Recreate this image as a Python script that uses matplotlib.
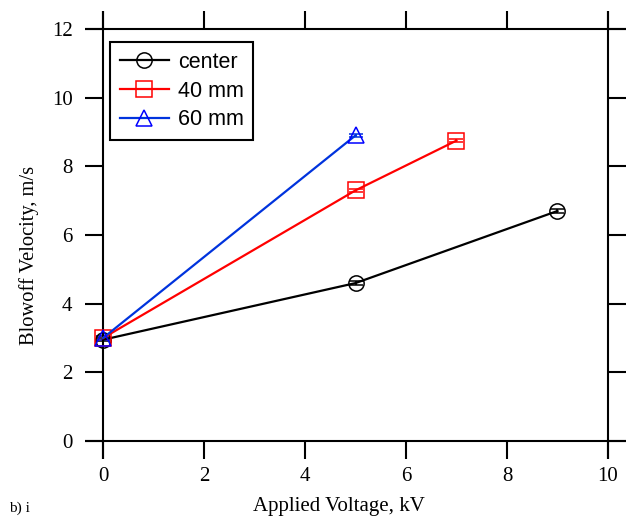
import matplotlib
matplotlib.use("Agg")
import matplotlib.pyplot as plt
from matplotlib.lines import Line2D

# Data
volt_center = [0, 5, 9]
vel_center = [2.95, 4.6, 6.7]
volt_40 = [0, 5, 7]
vel_40 = [3.0, 7.3, 8.75]
volt_60 = [0, 5]
vel_60 = [3.0, 8.9]
err = 0.05

x_ticks = [0, 2, 4, 6, 8, 10]
y_ticks = [0, 2, 4, 6, 8, 10, 12]


def main():
    fig = plt.figure(figsize=(6.32, 5.16), dpi=100)
    ax = fig.add_axes([0.163, 0.1453, 0.799, 0.7985])

    serif = ["Liberation Serif", "DejaVu Serif"]
    sans = ["Liberation Sans", "DejaVu Sans"]

    series = [
        (volt_center, vel_center, "black", "black", "o", "center", 11),
        (volt_40, vel_40, "#ff0000", "#ff0000", "s", "40 mm", 11),
        (volt_60, vel_60, "#0033dd", "#0000ff", "^", "60 mm", 12),
    ]
    handles = []
    for xs, ys, col, mcol, mk, lab, ms in series:
        ax.errorbar(
            xs, ys, yerr=err, color=col, linewidth=1.6,
            marker=mk, markersize=ms, markerfacecolor="none",
            markeredgecolor=mcol, markeredgewidth=1.1,
            ecolor=col, elinewidth=1.2, capsize=5, capthick=1.6,
            clip_on=False,
        )
        handles.append(Line2D([], [], color=col, linewidth=1.6, marker=mk,
                              markersize=ms, markerfacecolor="none",
                              markeredgecolor=mcol, markeredgewidth=1.1,
                              label=lab))

    ax.set_xlim(0, 10)
    ax.set_ylim(0, 12)
    ax.set_xticks(x_ticks)
    ax.set_yticks(y_ticks)
    ax.tick_params(direction="out", length=13, width=1.5,
                   top=True, right=True, labelsize=15, pad=6)
    ax.tick_params(axis="y", pad=9)
    for lbl in ax.get_xticklabels() + ax.get_yticklabels():
        lbl.set_family(serif)

    ax.set_xlabel("Applied Voltage, kV", fontsize=15, family=serif)
    ax.set_ylabel("Blowoff Velocity, m/s", fontsize=14.8, family=serif)
    ax.xaxis.set_label_coords(0.467, -0.136)
    ax.yaxis.set_label_coords(-0.127, 0.451)

    # axis lines that run past the corners by one tick length
    for sp in ax.spines.values():
        sp.set_visible(False)
    ext_px = 13 * 100 / 72
    bbox = ax.get_position()
    ex = ext_px / (bbox.width * 632)
    ey = ext_px / (bbox.height * 516)
    kw = dict(transform=ax.transAxes, clip_on=False, color="black",
              linewidth=1.5, solid_capstyle="butt")
    ax.plot([0, 0], [-ey, 1 + ey], **kw)
    ax.plot([1, 1], [-ey, 1 + ey], **kw)
    ax.plot([-ex, 1 + ex], [0, 0], **kw)
    ax.plot([-ex, 1 + ex], [1, 1], **kw)

    leg = ax.legend(handles=handles, loc="upper left",
                    bbox_to_anchor=(0.0139, 0.968), fancybox=False,
                    framealpha=1, edgecolor="black", handlelength=2.3,
                    borderpad=0.45, labelspacing=0.36, handletextpad=0.4,
                    borderaxespad=0, prop={"family": sans, "size": 15.5})
    leg.get_frame().set_linewidth(1.5)

    fig.text(0.015, 0.002, "b) i", fontsize=11, family=serif, va="bottom")

    fig.savefig("out.png", dpi=100)


if __name__ == "__main__":
    main()
